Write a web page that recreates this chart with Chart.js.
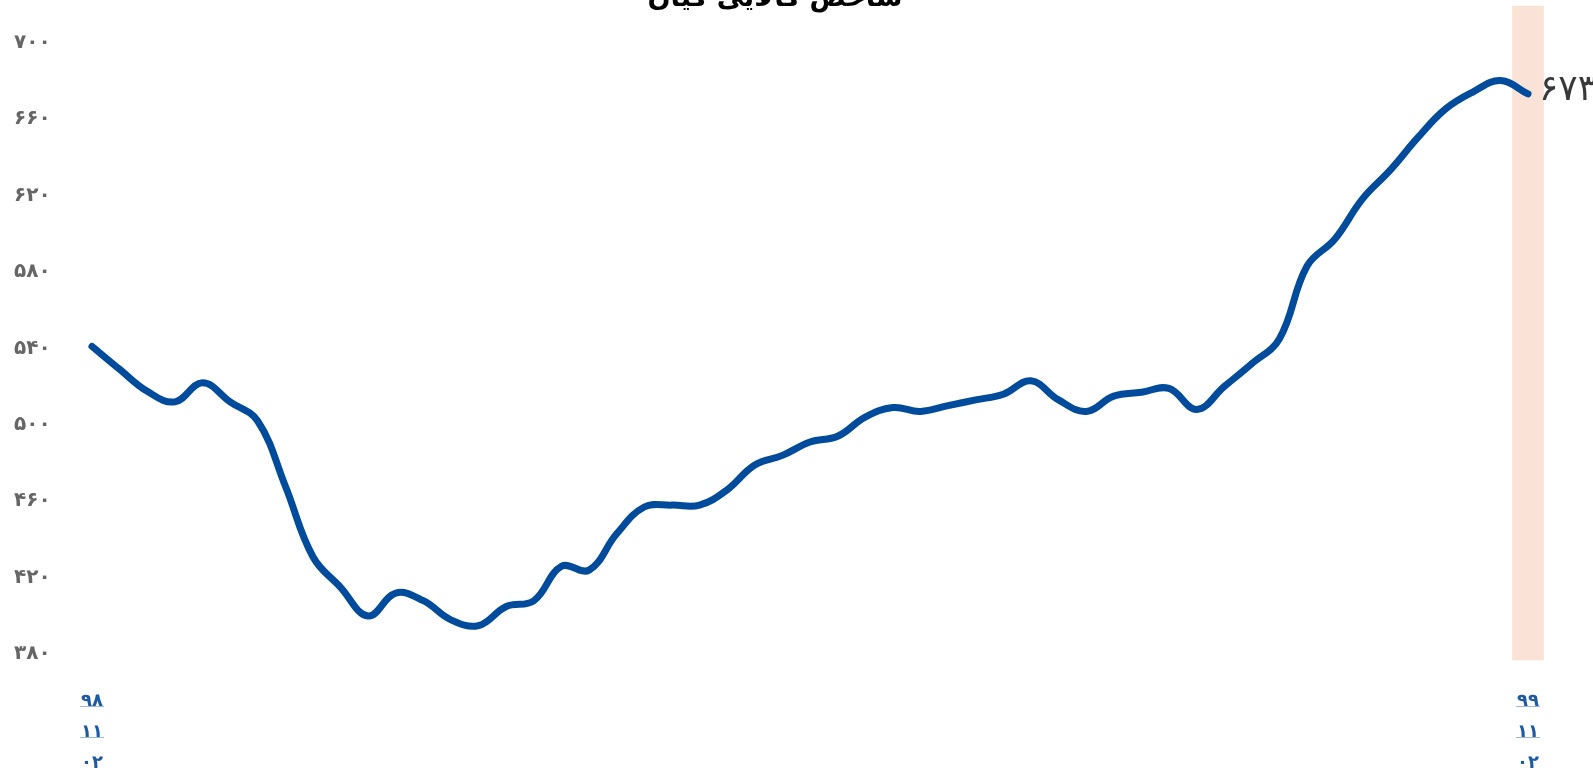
<!DOCTYPE html>
<html>
<head>
<meta charset="utf-8">
<script src="https://cdn.jsdelivr.net/npm/chart.js@4/dist/chart.umd.min.js"></script>
<style>
  html, body { margin: 0; padding: 0; background: #fff; }
  #wrap { width: 1593px; height: 774px; }
</style>
</head>
<body>
<div id="wrap"><canvas id="chart"></canvas></div>
<script>
// weekly index values, 98/11/02 .. 99/11/02
var indexValues = [541, 529, 517.5, 512, 522, 512, 502, 468, 431, 415, 400, 412, 408, 398, 395, 405, 408, 426, 424, 443,
  457, 458, 458, 466, 479, 484, 491, 494, 504, 509, 507, 510, 513, 516, 523, 513, 507, 515, 517, 519,
  508, 520, 532, 545, 583, 597, 618, 633, 650, 665, 674, 680, 673];
var firstLabel = ['۹۸', '۱۱', '۰۲'];
var lastLabel = ['۹۹', '۱۱', '۰۲'];
var yTickValues = [380, 420, 460, 500, 540, 580, 620, 660, 700];
var yTickLabels = ['۳۸۰', '۴۲۰', '۴۶۰', '۵۰۰', '۵۴۰', '۵۸۰', '۶۲۰', '۶۶۰', '۷۰۰'];
var lastValueLabel = '۶۷۳';
var title = 'شاخص کالایی کیان';

var yMin = 377, yMax = 719;
var lastIdx = indexValues.length - 1;
var categories = indexValues.map(function (v, i) { return i; });
var band = indexValues.map(function (v, i) { return i === lastIdx ? [yMin, yMax] : null; });

var extras = {
    id: 'extras',
    afterDatasetsDraw: function (chart) {
        var ctx = chart.ctx;
        var pt = chart.getDatasetMeta(1).data[lastIdx];
        ctx.save();
        ctx.fillStyle = '#383838';
        ctx.font = '36px "DejaVu Sans"';
        ctx.textAlign = 'left';
        ctx.textBaseline = 'middle';
        ctx.fillText(lastValueLabel, pt.x + 11, pt.y - 3);
        ctx.restore();
    },
    afterDraw: function (chart) {
        var ctx = chart.ctx;
        var x = chart.scales.x;
        ctx.save();
        // title, mostly above the canvas
        ctx.fillStyle = '#000';
        ctx.font = 'bold 27px "DejaVu Sans"';
        ctx.textAlign = 'center';
        ctx.textBaseline = 'alphabetic';
        ctx.fillText(title, 775, 6);
        // underlines of the date labels
        ctx.strokeStyle = '#9db8dc';
        ctx.lineWidth = 1;
        ctx.font = 'bold 18px "DejaVu Sans"';
        [0, lastIdx].forEach(function (i, k) {
            var px = x.getPixelForValue(i);
            var lbl = k === 0 ? firstLabel : lastLabel;
            for (var j = 0; j < 2; j++) {
                var w = ctx.measureText(lbl[j]).width + 2;
                var yy = Math.round(x.top + 18 + 15.5 + 31 * j + 12.5) + 0.5;
                ctx.beginPath();
                ctx.moveTo(px - w / 2, yy);
                ctx.lineTo(px + w / 2, yy);
                ctx.stroke();
            }
        });
        ctx.restore();
    }
};

var ctx = document.getElementById('chart');
var chart = new Chart(ctx, {
    type: 'line',
    data: {
        labels: categories,
        datasets: [{
            type: 'bar',
            data: band,
            backgroundColor: 'rgb(250,227,214)',
            barThickness: 31,
            borderWidth: 0,
            clip: false,
            order: 2
        }, {
            data: indexValues,
            borderColor: '#004b9b',
            borderWidth: 7,
            backgroundColor: 'transparent',
            pointRadius: 0,
            tension: 0.4,
            borderCapStyle: 'round',
            borderJoinStyle: 'round',
            clip: false,
            order: 1
        }]
    },
    options: {
        responsive: true,
        maintainAspectRatio: false,
        animation: false,
        layout: { padding: { left: 14, right: 65, top: 6, bottom: 0 } },
        plugins: { legend: { display: false }, tooltip: { enabled: false } },
        scales: {
            x: {
                offset: false,
                grid: { display: false, offset: false },
                border: { display: false },
                afterFit: function (s) { s.height = 114; },
                ticks: {
                    autoSkip: false,
                    maxRotation: 0,
                    padding: 18,
                    color: '#1d59a5',
                    font: { family: 'DejaVu Sans', size: 18, weight: 'bold', lineHeight: '31px' },
                    callback: function (v, i) {
                        if (i === 0) return firstLabel;
                        if (i === lastIdx) return lastLabel;
                        return '';
                    }
                }
            },
            y: {
                min: yMin,
                max: yMax,
                grid: { display: false },
                border: { display: false },
                afterFit: function (s) {
                    s.width = 78;
                    s.paddingTop = 0;
                    s.paddingBottom = 0;
                },
                afterBuildTicks: function (s) {
                    s.ticks = yTickValues.map(function (v) { return { value: v }; });
                },
                ticks: {
                    crossAlign: 'far',
                    color: '#666',
                    font: { family: 'DejaVu Sans', size: 20, weight: 'bold' },
                    callback: function (v) {
                        var k = yTickValues.indexOf(v);
                        return k >= 0 ? yTickLabels[k] : '';
                    }
                }
            }
        }
    },
    plugins: [extras]
});
</script>
</body>
</html>
